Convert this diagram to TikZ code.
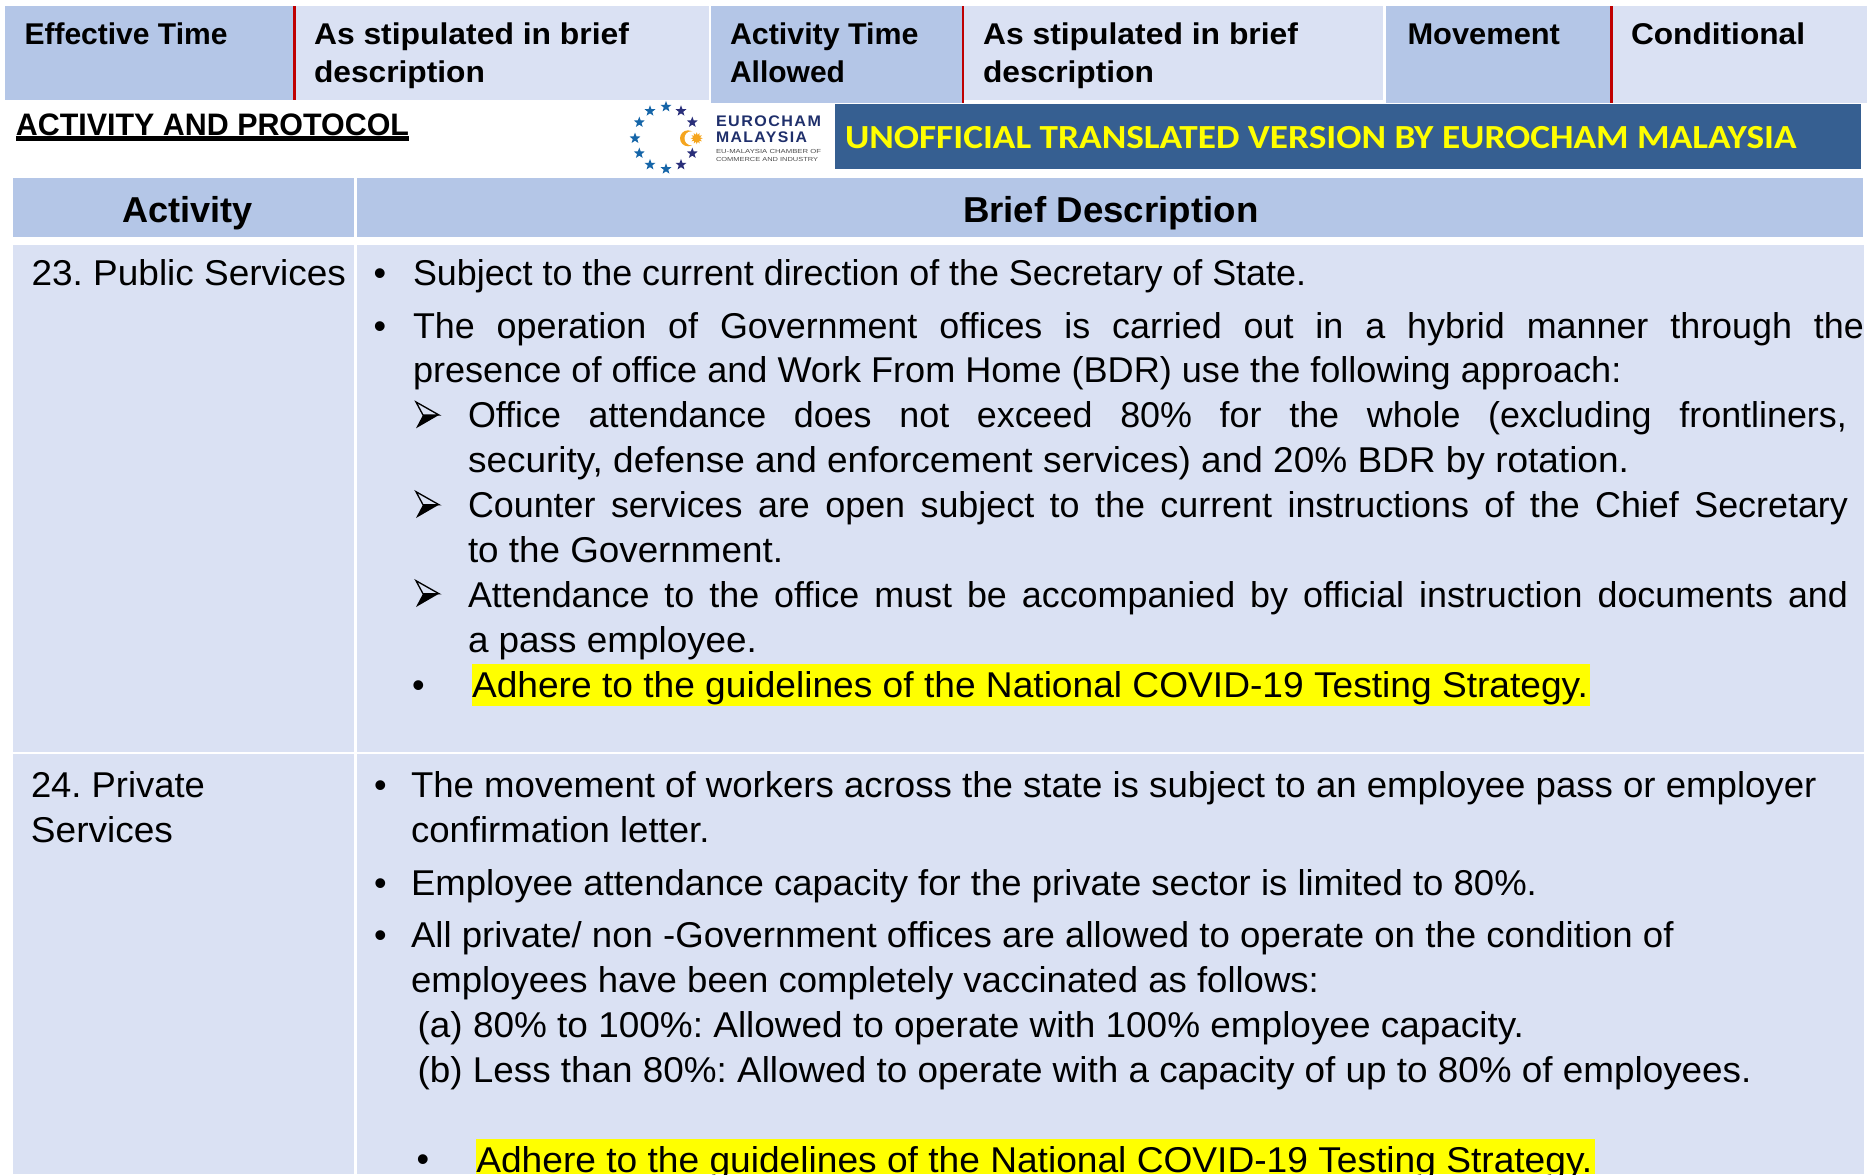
\documentclass[tikz,border=0pt]{standalone}
\usepackage{fontspec}
\usepackage{graphicx}
\setmainfont{Liberation Sans}
\newfontfamily\calib{Carlito}
\newfontfamily\djv{DejaVu Sans}
\usetikzlibrary{shapes.geometric}
\newdimen\pxu \pxu=0.75pt
\definecolor{hdr}{HTML}{B4C6E7}
\definecolor{lite}{HTML}{DAE1F3}
\definecolor{redln}{HTML}{C00000}
\definecolor{bann}{HTML}{365F91}
\definecolor{hilite}{HTML}{FFFF00}
\definecolor{navy}{HTML}{1F2F6B}
\definecolor{stL}{HTML}{1565A8}
\definecolor{stR}{HTML}{2A2F7A}
\definecolor{orng}{HTML}{F5A51E}
\newcommand\bodyf{\fontsize{26.9}{30}\selectfont\frenchspacing}
\newcommand\topf{\fontsize{22.5}{26}\selectfont\bfseries\frenchspacing}
\newcommand\headf{\fontsize{27}{30}\selectfont\bfseries\frenchspacing}
\tikzset{
  txt/.style={anchor=base west,inner sep=0pt,outer sep=0pt,font=\bodyf,text=black},
  toptxt/.style={txt,font=\topf},
  headtxt/.style={txt,font=\headf},
  eustar/.style={star,star points=5,star point ratio=2.4,inner sep=0pt,minimum size=8.6pt,fill=#1},
}
% name, x, baseline y, width, text : fitted to a width
\newcommand\tl[6][txt]{\node[#1] (#2) at (#3,#4) {\resizebox{#5\pxu}{\height}{#6}};}
% justified line
\newcommand\jl[5]{\node[txt] (#1) at (#2,#3) {\makebox[#4\pxu][s]{#5}};}
\newcommand\bul[3]{\node[txt,anchor=base] (#1) at (#2,#3) {•};}
% arrowhead bullet, shifted down by #1
\newcommand\arw[1]{\begin{scope}[shift={(0,#1)}]
  \filldraw[fill=lite,draw=black,line width=1pt,line join=miter] (416,402) -- (439,415) -- (423,415) -- cycle;
  \fill[black] (416,428.3) -- (439,415) -- (423,415) -- cycle;
\end{scope}}
\begin{document}
\begin{tikzpicture}[x=0.75pt,y=-0.75pt]
\useasboundingbox (0,0) rectangle (1869,1174);
\clip (0,0) rectangle (1869,1174);
% top strip
\fill[hdr]  (5,6) rectangle (293,100);
\fill[lite] (295,6) rectangle (709,100);
\fill[hdr]  (711,6) rectangle (962,103);
\fill[lite] (964,6) rectangle (1383,100);
\fill[hdr]  (1386,6) rectangle (1610,103);
\fill[lite] (1612,6) rectangle (1867,103);
\fill[redln] (293,6) rectangle (295.5,100);
\fill[redln] (961.5,6) rectangle (964,103);
\fill[redln] (1610,6) rectangle (1612.5,103);
\tl[toptxt]{a1}{24.5}{44.3}{203}{Effective Time}
\tl[toptxt]{a2}{314}{44.3}{315}{As stipulated in brief}
\tl[toptxt]{a3}{314}{82.3}{171}{description}
\tl[toptxt]{a4}{730}{44.3}{188.5}{Activity Time}
\tl[toptxt]{a5}{730}{82.3}{115}{Allowed}
\tl[toptxt]{a6}{983}{44.3}{315}{As stipulated in brief}
\tl[toptxt]{a7}{983}{82.3}{171}{description}
\tl[toptxt]{a8}{1407.5}{44.3}{152.5}{Movement}
\tl[toptxt]{a9}{1631}{44.3}{174}{Conditional}
% title
\node[txt,font=\fontsize{23.3}{26}\selectfont\bfseries] (title) at (16,135) {\resizebox{393\pxu}{\height}{ACTIVITY AND PROTOCOL}};
\fill[black] (16,135.5) rectangle (409,140.5);
% logo
\node[eustar=stL] (s1) at (666,106.7) {};
\node[eustar=stR] (s2) at (681,111) {};
\node[eustar=stR] (s3) at (692.3,122.3) {};
\node[eustar=stR] (s4) at (692.3,153.3) {};
\node[eustar=stR] (s5) at (681,164.7) {};
\node[eustar=stL] (s6) at (666,169) {};
\node[eustar=stL] (s7) at (650,164.7) {};
\node[eustar=stL] (s8) at (639.3,153.3) {};
\node[eustar=stL] (s9) at (635,138.3) {};
\node[eustar=stL] (s10) at (639.3,122.3) {};
\node[eustar=stL] (s11) at (650,111) {};
\fill[orng] (688,138.3) circle[radius=8];
\fill[white] (691.5,138.3) circle[radius=7];
\node[star,star points=12,star point ratio=1.7,inner sep=0pt,minimum size=9pt,fill=orng] (sun) at (696.7,138.3) {};
\node[txt,text=navy,font=\fontsize{11.5}{13}\selectfont\bfseries] (lg1) at (716,126) {\resizebox{105\pxu}{\height}{\addfontfeatures{LetterSpace=9}EUROCHAM}};
\node[txt,text=navy,font=\fontsize{11.5}{13}\selectfont\bfseries] (lg2) at (716,142) {\resizebox{91\pxu}{\height}{\addfontfeatures{LetterSpace=9}MALAYSIA}};
\node[txt,text=black!70,font=\fontsize{4.4}{5}\selectfont] (lg3) at (716,153) {\resizebox{105\pxu}{\height}{EU-MALAYSIA CHAMBER OF}};
\node[txt,text=black!70,font=\fontsize{4.4}{5}\selectfont] (lg4) at (716,161) {\resizebox{102\pxu}{\height}{COMMERCE AND INDUSTRY}};
% banner
\fill[bann] (835,104) rectangle (1861,169);
\node[txt,text=hilite,font=\calib\fontsize{25.3}{28}\selectfont\bfseries] (ban) at (845,148) {\resizebox{951.5\pxu}{\height}{UNOFFICIAL TRANSLATED VERSION BY EUROCHAM MALAYSIA}};
% table header
\fill[hdr] (13,178) rectangle (353.5,237);
\fill[hdr] (356.5,178) rectangle (1863,237);
\tl[headtxt]{h1}{122.5}{222}{130.5}{Activity}
\tl[headtxt]{h2}{963}{222}{295.5}{Brief Description}
% table rows
\fill[lite] (13,245) rectangle (353.5,751.5);
\fill[lite] (356.5,245) rectangle (1864,751.5);
\fill[lite] (13,754) rectangle (353.5,1174);
\fill[lite] (356.5,754) rectangle (1864,1174);
% row 23
\tl{r1}{31.6}{285.7}{314.4}{23. Public Services}
\bul{b1}{380}{285.7}
\tl{l1}{413}{285.7}{893}{Subject to the current direction of the Secretary of State.}
\bul{b2}{380}{338}
\jl{l2}{413}{338}{1451}{The operation of Government offices is carried out in a hybrid manner through the}
\tl{l3}{413}{382.7}{1208.5}{presence of office and Work From Home (BDR) use the following approach:}
\arw{0}
\jl{l4}{468}{427}{1379}{Office attendance does not exceed 80\% for the whole (excluding frontliners,}
\tl{l5}{468}{472}{1161}{security, defense and enforcement services) and 20\% BDR by rotation.}
\arw{89.7}
\jl{l6}{468}{517}{1380}{Counter services are open subject to the current instructions of the Chief Secretary}
\tl{l7}{468}{562}{315}{to the Government.}
\arw{178.7}
\jl{l8}{468}{607}{1380}{Attendance to the office must be accompanied by official instruction documents and}
\tl{l9}{468}{652}{289}{a pass employee.}
\fill[hilite] (472,664) rectangle (1590.4,705.7);
\bul{b3}{418.4}{697}
\tl{l10}{472}{697}{1116}{Adhere to the guidelines of the National COVID-19 Testing Strategy.}
% row 24
\tl{r2}{31}{797.5}{174}{24. Private}
\tl{r3}{31}{842.7}{142}{Services}
\bul{b4}{380.4}{797.7}
\tl{m1}{411}{797.7}{1405.5}{The movement of workers across the state is subject to an employee pass or employer}
\tl{m2}{411}{842.7}{298.5}{confirmation letter.}
\bul{b5}{380.4}{895.7}
\tl{m3}{411}{895.7}{1126}{Employee attendance capacity for the private sector is limited to 80\%.}
\bul{b6}{380.4}{947.3}
\tl{m4}{411}{947.3}{1262.6}{All private/ non -Government offices are allowed to operate on the condition of}
\tl{m5}{411}{992.3}{908}{employees have been completely vaccinated as follows:}
\tl{m6}{417.6}{1037.3}{1106.5}{(a) 80\% to 100\%: Allowed to operate with 100\% employee capacity.}
\tl{m7}{417.6}{1082.3}{1334}{(b) Less than 80\%: Allowed to operate with a capacity of up to 80\% of employees.}
\fill[hilite] (476.3,1139) rectangle (1594.5,1174);
\bul{b7}{422.8}{1171.5}
\tl{m8}{476.3}{1172}{1116}{Adhere to the guidelines of the National COVID-19 Testing Strategy.}
\end{tikzpicture}
\end{document}
